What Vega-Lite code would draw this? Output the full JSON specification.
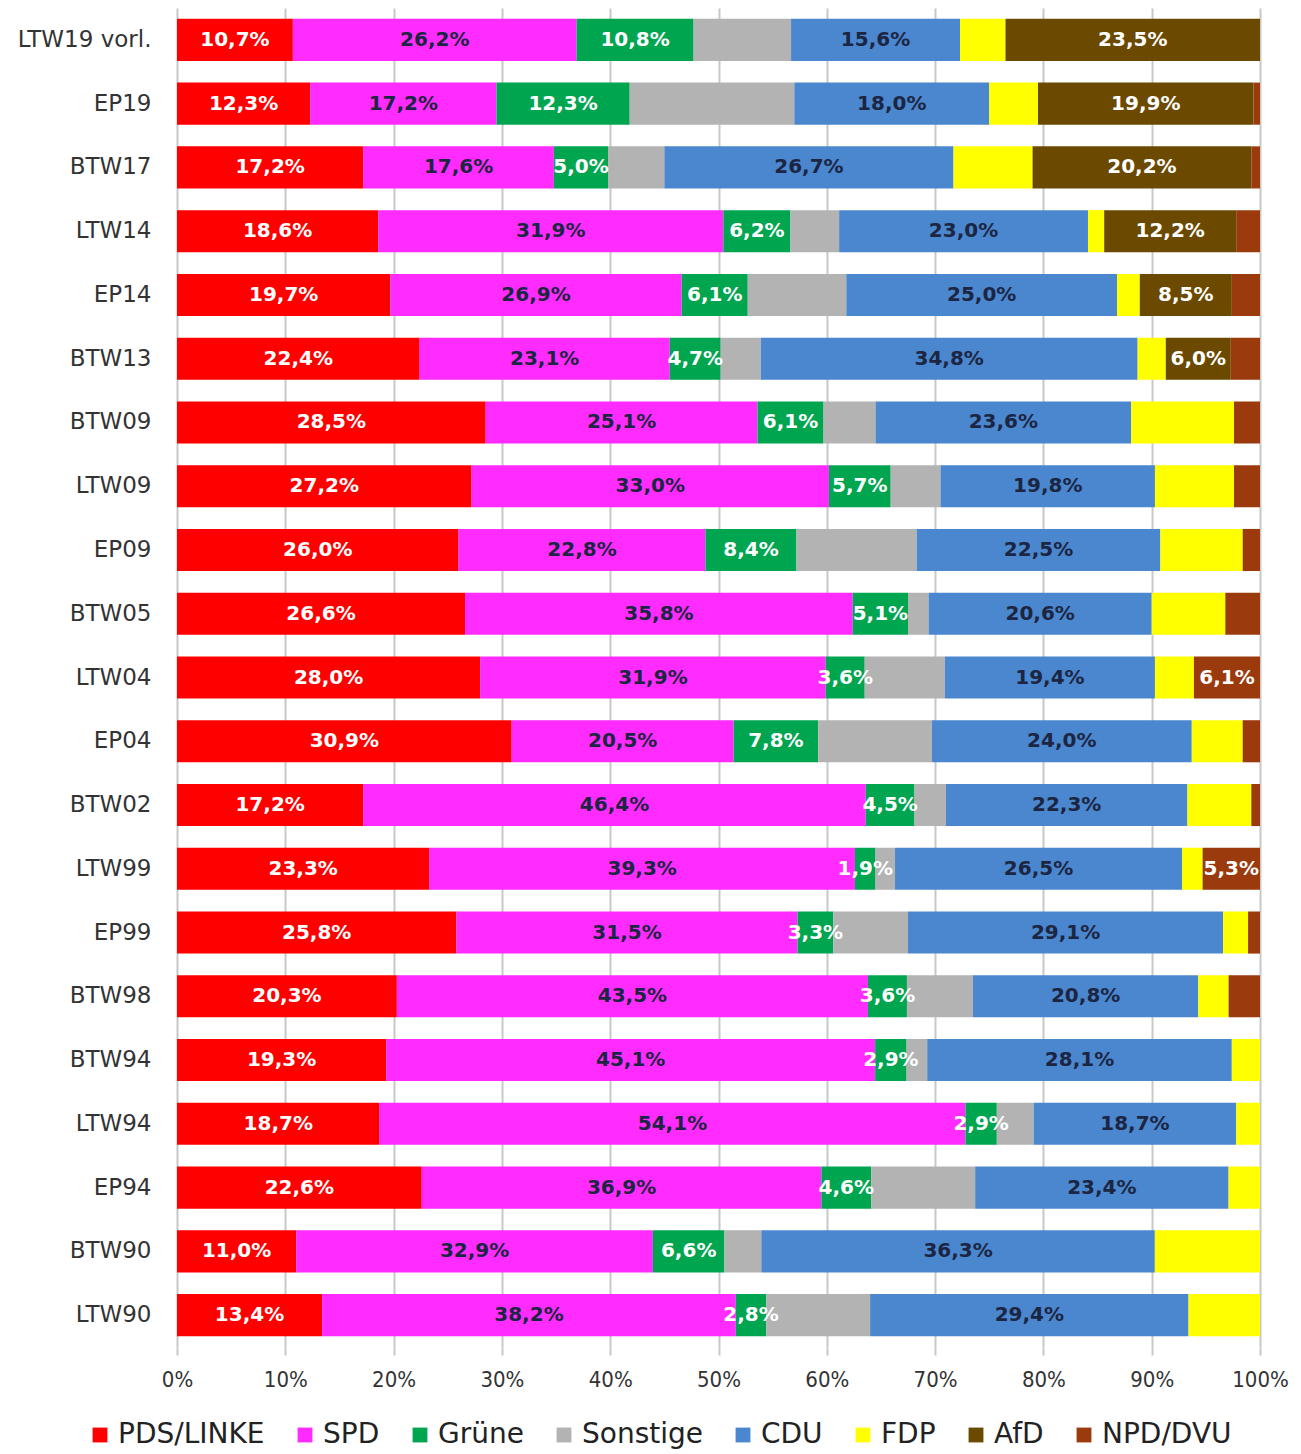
{
  "$schema": "https://vega.github.io/schema/vega-lite/v6.json",
  "autosize": "none",
  "width": 1083,
  "height": 1339,
  "padding": {"left": 177, "top": 8, "right": 41, "bottom": 107},
  "background": "white",
  "data": {
    "values": [
      {"e": "LTW19 vorl.", "PDS/LINKE": 10.7, "SPD": 26.2, "Grüne": 10.8, "Sonstige": 9.0, "CDU": 15.6, "FDP": 4.2, "AfD": 23.5},
      {"e": "EP19", "PDS/LINKE": 12.3, "SPD": 17.2, "Grüne": 12.3, "Sonstige": 15.2, "CDU": 18.0, "FDP": 4.5, "AfD": 19.9, "NPD/DVU": 0.6},
      {"e": "BTW17", "PDS/LINKE": 17.2, "SPD": 17.6, "Grüne": 5.0, "Sonstige": 5.2, "CDU": 26.7, "FDP": 7.3, "AfD": 20.2, "NPD/DVU": 0.8},
      {"e": "LTW14", "PDS/LINKE": 18.6, "SPD": 31.9, "Grüne": 6.2, "Sonstige": 4.5, "CDU": 23.0, "FDP": 1.5, "AfD": 12.2, "NPD/DVU": 2.2},
      {"e": "EP14", "PDS/LINKE": 19.7, "SPD": 26.9, "Grüne": 6.1, "Sonstige": 9.1, "CDU": 25.0, "FDP": 2.1, "AfD": 8.5, "NPD/DVU": 2.6},
      {"e": "BTW13", "PDS/LINKE": 22.4, "SPD": 23.1, "Grüne": 4.7, "Sonstige": 3.7, "CDU": 34.8, "FDP": 2.6, "AfD": 6.0, "NPD/DVU": 2.7},
      {"e": "BTW09", "PDS/LINKE": 28.5, "SPD": 25.1, "Grüne": 6.1, "Sonstige": 4.8, "CDU": 23.6, "FDP": 9.5, "NPD/DVU": 2.4},
      {"e": "LTW09", "PDS/LINKE": 27.2, "SPD": 33.0, "Grüne": 5.7, "Sonstige": 4.6, "CDU": 19.8, "FDP": 7.3, "NPD/DVU": 2.4},
      {"e": "EP09", "PDS/LINKE": 26.0, "SPD": 22.8, "Grüne": 8.4, "Sonstige": 11.1, "CDU": 22.5, "FDP": 7.6, "NPD/DVU": 1.6},
      {"e": "BTW05", "PDS/LINKE": 26.6, "SPD": 35.8, "Grüne": 5.1, "Sonstige": 1.9, "CDU": 20.6, "FDP": 6.8, "NPD/DVU": 3.2},
      {"e": "LTW04", "PDS/LINKE": 28.0, "SPD": 31.9, "Grüne": 3.6, "Sonstige": 7.4, "CDU": 19.4, "FDP": 3.6, "NPD/DVU": 6.1},
      {"e": "EP04", "PDS/LINKE": 30.9, "SPD": 20.5, "Grüne": 7.8, "Sonstige": 10.5, "CDU": 24.0, "FDP": 4.7, "NPD/DVU": 1.6},
      {"e": "BTW02", "PDS/LINKE": 17.2, "SPD": 46.4, "Grüne": 4.5, "Sonstige": 2.9, "CDU": 22.3, "FDP": 5.9, "NPD/DVU": 0.8},
      {"e": "LTW99", "PDS/LINKE": 23.3, "SPD": 39.3, "Grüne": 1.9, "Sonstige": 1.8, "CDU": 26.5, "FDP": 1.9, "NPD/DVU": 5.3},
      {"e": "EP99", "PDS/LINKE": 25.8, "SPD": 31.5, "Grüne": 3.3, "Sonstige": 6.9, "CDU": 29.1, "FDP": 2.3, "NPD/DVU": 1.1},
      {"e": "BTW98", "PDS/LINKE": 20.3, "SPD": 43.5, "Grüne": 3.6, "Sonstige": 6.1, "CDU": 20.8, "FDP": 2.8, "NPD/DVU": 2.9},
      {"e": "BTW94", "PDS/LINKE": 19.3, "SPD": 45.1, "Grüne": 2.9, "Sonstige": 1.9, "CDU": 28.1, "FDP": 2.6},
      {"e": "LTW94", "PDS/LINKE": 18.7, "SPD": 54.1, "Grüne": 2.9, "Sonstige": 3.4, "CDU": 18.7, "FDP": 2.2},
      {"e": "EP94", "PDS/LINKE": 22.6, "SPD": 36.9, "Grüne": 4.6, "Sonstige": 9.6, "CDU": 23.4, "FDP": 2.9},
      {"e": "BTW90", "PDS/LINKE": 11.0, "SPD": 32.9, "Grüne": 6.6, "Sonstige": 3.4, "CDU": 36.3, "FDP": 9.7},
      {"e": "LTW90", "PDS/LINKE": 13.4, "SPD": 38.2, "Grüne": 2.8, "Sonstige": 9.6, "CDU": 29.4, "FDP": 6.6}
    ]
  },
  "transform": [
    {"fold": ["PDS/LINKE", "SPD", "Grüne", "Sonstige", "CDU", "FDP", "AfD", "NPD/DVU"], "as": ["p", "v"]},
    {"filter": "isValid(datum.v) && datum.v > 0"},
    {"calculate": "indexof(['PDS/LINKE','SPD','Grüne','Sonstige','CDU','FDP','AfD','NPD/DVU'], datum.p)", "as": "k"},
    {"stack": "v", "groupby": ["e"], "sort": [{"field": "k", "order": "ascending"}], "offset": "normalize", "as": ["x0", "x1"]}
  ],
  "encoding": {
    "y": {
      "field": "e", "type": "nominal", "sort": null, "title": null,
      "scale": {"paddingInner": 0.34, "paddingOuter": 0.17},
      "axis": {"domain": false, "ticks": false, "labelPadding": 26, "labelFontSize": 23, "labelColor": "#333333", "labelFont": "DejaVu Sans"}
    }
  },
  "layer": [
    {
      "mark": {"type": "bar"},
      "encoding": {
        "x": {
          "field": "x0", "type": "quantitative", "title": null,
          "scale": {"domain": [0, 1], "nice": false, "zero": true},
          "axis": {
            "values": [0, 0.1, 0.2, 0.3, 0.4, 0.5, 0.6, 0.7, 0.8, 0.9, 1],
            "format": ".0%", "grid": true, "gridColor": "#c8c8c8", "gridWidth": 2,
            "domain": false, "ticks": true, "tickColor": "#c8c8c8", "tickWidth": 2, "tickSize": 8,
            "labelFontSize": 22, "labelPadding": 14, "labelColor": "#333333", "labelFont": "DejaVu Sans Condensed, DejaVu Sans",
            "labelFlush": false
          }
        },
        "x2": {"field": "x1"},
        "color": {
          "field": "p", "type": "nominal", "title": null,
          "scale": {
            "domain": ["PDS/LINKE", "SPD", "Grüne", "Sonstige", "CDU", "FDP", "AfD", "NPD/DVU"],
            "range": ["#ff0000", "#ff2bff", "#00a550", "#b3b3b3", "#4a87cf", "#ffff00", "#6b4a00", "#9b3a0c"]
          },
          "legend": {
            "orient": "none", "legendX": -91, "legendY": 1413, "direction": "horizontal", "columns": 8,
            "symbolType": "square", "symbolSize": 220, "symbolStrokeWidth": 0,
            "labelFontSize": 28, "labelFont": "DejaVu Sans", "labelColor": "#222222",
            "labelOffset": 4, "columnPadding": 26, "labelLimit": 300
          }
        }
      }
    },
    {
      "transform": [
        {"filter": "indexof(['PDS/LINKE','SPD','Grüne','CDU'], datum.p) >= 0 || ((datum.p == 'AfD' || datum.p == 'NPD/DVU') && datum.v >= 5)"},
        {"calculate": "(datum.x0 + datum.x1) / 2", "as": "mid"},
        {"calculate": "replace(format(datum.v, '.1f'), '.', ',') + '%'", "as": "lab"}
      ],
      "mark": {"type": "text", "font": "DejaVu Sans", "fontWeight": "bold", "fontSize": 20, "align": "center", "baseline": "middle"},
      "encoding": {
        "x": {"field": "mid", "type": "quantitative"},
        "text": {"field": "lab"},
        "color": {
          "condition": {"test": "datum.p == 'SPD' || datum.p == 'CDU'", "value": "#1c2541"},
          "value": "#ffffff"
        }
      }
    }
  ],
  "config": {"view": {"stroke": null}}
}
